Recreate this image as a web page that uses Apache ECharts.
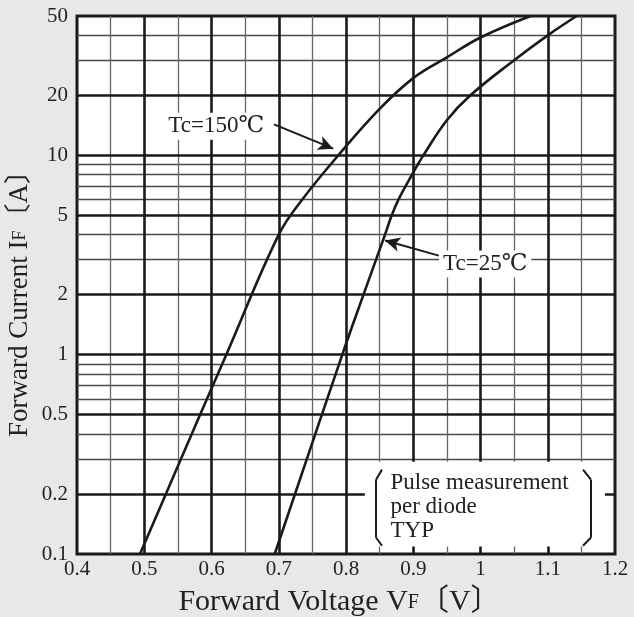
<!DOCTYPE html>
<html><head><meta charset="utf-8">
<script src="https://cdn.jsdelivr.net/npm/echarts@6/dist/echarts.min.js"></script>
<style>html,body{margin:0;padding:0;background:#e8e8e8}#c{width:634px;height:617px}</style>
</head><body><div id="c"></div>
<script>
// ---- data ----
const xMin = 0.4, xMax = 1.2, xStep = 0.1;
const yMin = 0.1, yMax = 50;
const yTickLabels = [0.1, 0.2, 0.5, 1, 2, 5, 10, 20, 50];
const yThickLines = [0.2, 0.5, 1, 2, 5, 10, 20];
const yThinLines = [0.3, 0.4, 0.6, 0.7, 0.8, 0.9, 3, 4, 6, 7, 8, 9, 30, 40];
const xThickLines = [0.5, 0.6, 0.7, 0.8, 0.9, 1.0, 1.1];
const xThinLines = [0.45, 0.55, 0.65, 0.75, 0.85, 0.95, 1.05, 1.15];
// Forward voltage [V], forward current [A]
const tc150 = [[0.4937,0.1],[0.583,0.5],[0.622,1],[0.700,4.0],[0.735,6],[0.7885,10],[0.850,17.1],[0.900,24.4],[0.950,31],[1.000,39],[1.0745,50]];
const tc25 = [[0.694,0.1],[0.7945,1],[0.826,2],[0.858,4],[0.868,5],[0.878,6],[0.900,8.2],[0.915,10],[0.950,15],[0.985,20],[1.050,30],[1.100,40],[1.143,50]];
const label150 = 'Tc=150℃';
const label25 = 'Tc=25℃';
const label150Pos = [0.607, 14];
const arrow150 = [[0.693, 14.3], [0.781, 10.8]];
const label25Pos = [1.007, 2.85];
const arrow25 = [[0.938, 3.14], [0.858, 3.74]];
const noteLines = ['Pulse measurement', 'per diode', 'TYP'];
const notePos = [0.8654, 0.172];
const noteBox = [[0.828, 0.290], [1.185, 0.109]];
const bracketL = [[0.8535,0.265],[0.8446,0.236],[0.8446,0.121],[0.8535,0.110]];
const bracketR = [[1.1524,0.265],[1.1643,0.236],[1.1643,0.121],[1.1524,0.110]];

const SERIF = "'Liberation Serif','DejaVu Serif','Noto Sans CJK JP',serif";
const INK = '#1a1a1a';

function segs(pts) {
  const out = [];
  for (let i = 0; i < pts.length - 1; i++) out.push([{coord: pts[i]}, {coord: pts[i+1]}]);
  return out;
}
const gridLines = []
  .concat(yThinLines.map(v => ({yAxis: v, lineStyle: {color: '#4a4a4a', width: 1.3, type: 'solid'}})))
  .concat(xThinLines.map(v => ({xAxis: v, lineStyle: {color: '#666', width: 1.3, type: 'solid'}})))
  .concat(yThickLines.map(v => ({yAxis: v, lineStyle: {color: INK, width: 2.6, type: 'solid'}})))
  .concat(xThickLines.map(v => ({xAxis: v, lineStyle: {color: INK, width: 2.6, type: 'solid'}})));

const chart = echarts.init(document.getElementById('c'));
chart.setOption({
  animation: false,
  backgroundColor: '#e8e8e8',
  grid: {left: 77, right: 19, top: 16, bottom: 63, containLabel: false, outerBoundsMode: 'none',
    show: true, backgroundColor: '#fff', borderColor: INK, borderWidth: 3},
  xAxis: {
    type: 'value', min: xMin, max: xMax, interval: xStep,
    axisLine: {show: false}, axisTick: {show: false}, splitLine: {show: false},
    axisLabel: {margin: 5, color: '#222', fontFamily: SERIF, fontSize: 21,
      formatter: v => String(Number(v.toFixed(2)))},
    name: 'Forward Voltage V{s|F}〔V〕', nameLocation: 'middle', nameGap: 33, nameMoveOverlap: false,
    nameTextStyle: {color: '#222', fontFamily: SERIF, fontSize: 30, padding: [0, 13, 0, 0],
      rich: {s: {fontSize: 20, fontFamily: SERIF, color: '#222', verticalAlign: 'bottom', padding: [0,0,4,0]}}}
  },
  yAxis: {
    type: 'log', logBase: 10, min: yMin, max: yMax,
    axisLine: {show: false}, axisTick: {show: false}, splitLine: {show: false},
    axisLabel: {margin: 9, color: '#222', fontFamily: SERIF, fontSize: 21, customValues: yTickLabels,
      formatter: v => String(Number(Number(v).toPrecision(6)))},
    name: 'Forward Current I{s|F}〔A〕', nameLocation: 'middle', nameGap: 44, nameRotate: 90, nameMoveOverlap: false,
    nameTextStyle: {color: '#222', fontFamily: SERIF, fontSize: 27, padding: [0, 24, 0, 0],
      rich: {s: {fontSize: 18, fontFamily: SERIF, color: '#222', verticalAlign: 'bottom', padding: [0,0,4,0]}}}
  },
  series: [
    {type: 'line', data: [], z: 1, silent: true,
     markLine: {z: 1, silent: true, symbol: ['none', 'none'], label: {show: false}, animation: false, data: gridLines}},
    {type: 'line', data: [], z: 2, silent: true,
     markArea: {z: 3, silent: true, itemStyle: {color: '#fff'}, label: {show: false},
       data: [[{coord: noteBox[0]}, {coord: noteBox[1]}]]}},
    {type: 'line', name: label150, data: tc150, z: 4, smooth: 0.4, showSymbol: false,
     lineStyle: {color: INK, width: 2.6},
     markLine: {z: 5, silent: true, symbol: ['none', 'arrow'], symbolSize: [11, 15], label: {show: false},
       lineStyle: {color: INK, width: 2, type: 'solid'}, data: [[{coord: arrow150[0]}, {coord: arrow150[1]}]]},
     markPoint: {z: 6, silent: true, symbol: 'rect', symbolSize: 1, itemStyle: {color: 'rgba(0,0,0,0)'},
       data: [{coord: label150Pos, value: label150}],
       label: {show: true, position: 'inside', formatter: label150, color: '#222', fontFamily: SERIF, fontSize: 23,
         backgroundColor: '#fff', padding: [2, 4]}}},
    {type: 'line', name: label25, data: tc25, z: 4, smooth: 0.4, showSymbol: false,
     lineStyle: {color: INK, width: 2.6},
     markLine: {z: 5, silent: true, symbol: ['none', 'none'], label: {show: false},
       lineStyle: {color: INK, width: 2, type: 'solid'},
       data: [[{coord: arrow25[0], symbol: 'none'}, {coord: arrow25[1], symbol: 'arrow', symbolSize: [11, 15]}]]
         .concat(segs(bracketL)).concat(segs(bracketR))},
     markPoint: {z: 6, silent: true, symbol: 'rect', symbolSize: 1, itemStyle: {color: 'rgba(0,0,0,0)'},
       data: [
         {coord: label25Pos, value: label25,
          label: {position: 'inside', formatter: label25, backgroundColor: '#fff', padding: [2, 4]}},
         {coord: notePos, value: 'note',
          label: {position: 'right', distance: 0, align: 'left', formatter: noteLines.join('\n'), lineHeight: 24}}
       ],
       label: {show: true, color: '#222', fontFamily: SERIF, fontSize: 23}}}
  ]
});
</script></body></html>
